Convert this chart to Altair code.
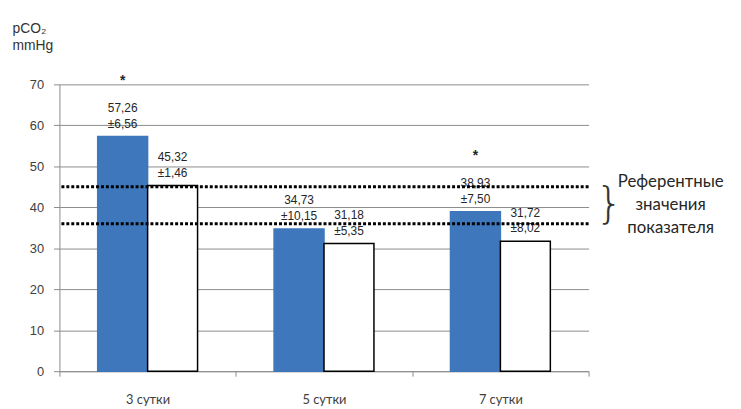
import altair as alt
import pandas as pd

days = ["3 сутки", "5 сутки", "7 сутки"]
groups = ["Группа 1", "Группа 2"]
mean_g1 = [57.26, 34.73, 38.93]
sd_g1 = [6.56, 10.15, 7.50]
mean_g2 = [45.32, 31.18, 31.72]
sd_g2 = [1.46, 5.35, 8.02]
signif_g1 = ["*", "", "*"]
signif_g2 = ["", "", ""]
ref_bounds = [36, 45]
ref_label = "Референтные\nзначения\nпоказателя"
y_ticks = [0, 10, 20, 30, 40, 50, 60, 70]


def fmt(v):
    return f"{v:.2f}".replace(".", ",")


rows = []
for g, means, sds, sigs in [(groups[0], mean_g1, sd_g1, signif_g1),
                            (groups[1], mean_g2, sd_g2, signif_g2)]:
    for d, m, s, st in zip(days, means, sds, sigs):
        rows.append(dict(day=d, group=g, value=m,
                         label=f"{fmt(m)}\n±{fmt(s)}", star=st))
df = pd.DataFrame(rows)
ref_df = pd.DataFrame({"y": ref_bounds})
ann_df = pd.DataFrame({"mid": [sum(ref_bounds) / 2], "label": [ref_label], "brace": ["}"]})

GRID = "#8c8c8c"

x_enc = alt.X("day:N", sort=days,
              scale=alt.Scale(paddingInner=0, paddingOuter=0),
              axis=alt.Axis(title=None, tickBand="extent", labelAngle=0,
                            domainColor=GRID, tickColor=GRID, tickSize=5,
                            labelPadding=18, labelFont="Lato", labelFontSize=13,
                            labelColor="#404040", grid=False))
xo_enc = alt.XOffset("group:N", sort=groups,
                     scale=alt.Scale(paddingOuter=0.766, paddingInner=0))
y_enc = alt.Y("value:Q", scale=alt.Scale(domain=[0, 70], nice=False),
              axis=alt.Axis(values=y_ticks, title=["pCO₂", "mmHg"], titleAngle=0,
                            titleAlign="left", titleBaseline="alphabetic",
                            titleX=-48, titleY=-52, titleFont="Liberation Sans",
                            titleFontSize=14, titleFontWeight="normal",
                            titleColor="#333333", titleLineHeight=17,
                            grid=True, gridColor=GRID, domainColor=GRID,
                            tickColor=GRID, tickSize=6, labelPadding=10,
                            labelFont="Liberation Sans", labelFontSize=13,
                            labelColor="#404040"))

base = alt.Chart(df).encode(x=x_enc, xOffset=xo_enc, y=y_enc)

bars = base.mark_bar(strokeWidth=1.5).encode(
    fill=alt.Fill("group:N", scale=alt.Scale(domain=groups, range=["#3E77BC", "#ffffff"]), legend=None),
    stroke=alt.Stroke("group:N", scale=alt.Scale(domain=groups, range=["#3E77BC", "#000000"]), legend=None),
)

labels = base.mark_text(baseline="bottom", dy=-22, lineBreak="\n", lineHeight=16,
                        fontSize=12, font="Liberation Sans", color="#262626").encode(text="label:N")

stars = base.transform_filter(alt.datum.star != "").mark_text(
    baseline="alphabetic", dy=-52, fontSize=14, font="Liberation Sans", fontWeight="bold",
    color="#262626").encode(text="star:N")

rules = alt.Chart(ref_df).mark_rule(strokeDash=[3, 2], strokeWidth=3, color="black").encode(
    y=alt.Y("y:Q"))

brace = alt.Chart(ann_df).mark_text(baseline="middle", align="center", fontSize=44,
                                    font="DejaVu Sans", fontWeight=200, color="#333333").encode(
    x=alt.value(556), y=alt.Y("mid:Q"), text="brace:N")

annot = alt.Chart(ann_df).mark_text(baseline="middle", align="center", lineBreak="\n",
                                    lineHeight=23, fontSize=17, dy=-23, font="Lato",
                                    color="#262626").encode(
    x=alt.value(618), y=alt.Y("mid:Q"), text="label:N")

chart = alt.layer(bars, labels, rules, stars, brace, annot).properties(
    width=535, height=290,
    autosize=alt.AutoSizeParams(type="none"),
    padding={"left": 52, "top": 75, "right": 146, "bottom": 36},
).configure_view(stroke=None)

chart.save("out.html", embed_options={"renderer": "svg", "actions": False})
